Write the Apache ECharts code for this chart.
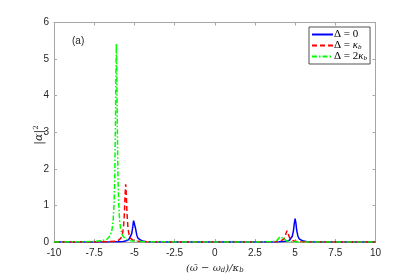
<!DOCTYPE html>
<html>
<head>
<meta charset="utf-8">
<script src="https://cdn.jsdelivr.net/npm/echarts@6/dist/echarts.min.js"></script>
<style>
html,body{margin:0;padding:0;background:#fff;}
#chart{width:415px;height:279px;}
</style>
</head>
<body>
<div id="chart"></div>
<script>
// ---- data ----
const xTicks = [-10, -7.5, -5, -2.5, 0, 2.5, 5, 7.5, 10];
const yTicks = [0, 1, 2, 3, 4, 5, 6];
const seriesNames = ['Δ = 0', 'Δ = κb', 'Δ = 2κb'];

const blueX = [-10, -8, -7, -6.5, -6, -5.7, -5.5, -5.35, -5.25, -5.17, -5.1, -5.05, -5.02, -4.98, -4.93, -4.85, -4.77, -4.67, -4.5, -4.3, -4, -3.5, -3, -2, 0, 2, 3, 3.5, 4, 4.3, 4.5, 4.65, 4.75, 4.83, 4.9, 4.95, 5.0, 5.05, 5.1, 5.17, 5.25, 5.35, 5.5, 5.7, 6, 6.5, 7, 8, 10];
const blueY = [0.0003, 0.0009, 0.0019, 0.0035, 0.0078, 0.016, 0.0315, 0.063, 0.117, 0.22, 0.412, 0.586, 0.63, 0.556, 0.377, 0.186, 0.102, 0.057, 0.027, 0.0144, 0.0072, 0.0033, 0.0019, 0.0008, 0.0003, 0.0007, 0.0016, 0.0028, 0.0063, 0.0128, 0.0246, 0.048, 0.088, 0.165, 0.32, 0.512, 0.64, 0.512, 0.32, 0.165, 0.088, 0.048, 0.0246, 0.0128, 0.0063, 0.0028, 0.0016, 0.0007, 0.0003];

const redX = [-10, -8, -7, -6.5, -6.2, -6, -5.85, -5.75, -5.68, -5.62, -5.58, -5.54, -5.5, -5.46, -5.4, -5.33, -5.23, -5.08, -4.88, -4.58, -4, -3, -1, 1, 2.5, 3.5, 3.9, 4.1, 4.22, 4.3, 4.37, 4.43, 4.5, 4.57, 4.63, 4.7, 4.78, 4.9, 5.1, 5.5, 6.5, 8, 10];
const redY = [0.0005, 0.0017, 0.0047, 0.0109, 0.0229, 0.0464, 0.0987, 0.2, 0.389, 0.79, 1.264, 1.58, 1.264, 0.79, 0.389, 0.2, 0.0987, 0.0464, 0.0229, 0.0109, 0.0043, 0.0016, 0.0005, 0.0004, 0.0011, 0.0044, 0.0119, 0.0256, 0.048, 0.082, 0.143, 0.231, 0.31, 0.231, 0.143, 0.082, 0.048, 0.0256, 0.0119, 0.0044, 0.0011, 0.0004, 0.00015];

const greenX = [-10, -8.5, -7.5, -7, -6.7, -6.5, -6.4, -6.32, -6.26, -6.22, -6.18, -6.15, -6.12, -6.09, -6.06, -6.02, -5.98, -5.92, -5.84, -5.74, -5.54, -5.24, -4.74, -3.74, -2, 0, 2, 3, 3.5, 3.75, 3.9, 4.0, 4.06, 4.12, 4.18, 4.24, 4.34, 4.49, 4.74, 5.24, 6.24, 8, 10];
const greenY = [0.0018, 0.0047, 0.0139, 0.034, 0.078, 0.178, 0.319, 0.592, 1.084, 1.78, 3.12, 4.58, 5.42, 4.58, 3.12, 1.78, 1.084, 0.592, 0.319, 0.178, 0.078, 0.034, 0.0139, 0.0047, 0.0016, 0.0009, 0.00085, 0.003, 0.0094, 0.024, 0.054, 0.104, 0.147, 0.17, 0.147, 0.104, 0.054, 0.024, 0.0094, 0.003, 0.00085, 0.0003, 0.0002];

const zip = (xs, ys) => xs.map((x, i) => [x, ys[i]]);

const chart = echarts.init(document.getElementById('chart'), null, {renderer: 'canvas'});
const axisColor = '#a6a6a6';
const txtColor = '#262626';
const sans = 'Liberation Sans, Arial, sans-serif';
const serif = 'DejaVu Serif, Liberation Serif, serif';

const baseX = {
  type: 'value', min: xTicks[0], max: xTicks[xTicks.length - 1], interval: 2.5,
  splitLine: {show: false},
  axisLine: {show: true, onZero: false, lineStyle: {color: axisColor, width: 1}},
  axisTick: {show: true, inside: true, length: 3, lineStyle: {color: axisColor}}
};
const baseY = {
  type: 'value', min: yTicks[0], max: yTicks[yTicks.length - 1], interval: 1,
  splitLine: {show: false},
  axisLine: {show: true, onZero: false, lineStyle: {color: axisColor, width: 1}},
  axisTick: {show: true, inside: true, length: 3, lineStyle: {color: axisColor}}
};

const legendRich = {
  n: {fontFamily: 'Liberation Serif, serif', fontSize: 11, color: '#000'},
  i: {fontFamily: 'Liberation Serif, serif', fontStyle: 'italic', fontSize: 11, color: '#000'},
  s: {fontFamily: 'Liberation Serif, serif', fontStyle: 'italic', fontSize: 7, color: '#000', verticalAlign: 'bottom', padding: [4, 0, 0, 0]}
};

chart.setOption({
  animation: false,
  backgroundColor: '#fff',
  grid: {left: 54, right: 39.5, top: 22.5, bottom: 31.5, containLabel: false},
  xAxis: [
    Object.assign({}, baseX, {
      position: 'bottom',
      axisLabel: {show: true, margin: 6, color: txtColor, fontFamily: sans, fontSize: 10,
        formatter: v => String(v)},
      name: '(ω\u0304 − ω{i|d})/κ{i|b}',
      nameLocation: 'middle', nameGap: 20,
      nameTextStyle: {fontFamily: serif, fontStyle: 'italic', fontSize: 10, color: txtColor,
        rich: {i: {fontFamily: serif, fontStyle: 'italic', fontSize: 7, color: txtColor, padding: [5, 0, 0, 0]}}}
    }),
    Object.assign({}, baseX, {position: 'top', axisLabel: {show: false}})
  ],
  yAxis: [
    Object.assign({}, baseY, {
      position: 'left',
      axisLabel: {show: true, margin: 5, color: txtColor, fontFamily: sans, fontSize: 10}
    }),
    Object.assign({}, baseY, {position: 'right', axisLabel: {show: false}})
  ],
  legend: {
    show: true, orient: 'vertical', left: 309, top: 27,
    backgroundColor: '#fff', borderColor: '#262626', borderWidth: 0.8,
    padding: [2, 3, 2, 2], itemGap: 0, itemWidth: 21, itemHeight: 11,
    itemStyle: {opacity: 0},
    data: seriesNames,
    formatter: function (name) {
      if (name === seriesNames[0]) return '{n|Δ = 0}';
      if (name === seriesNames[1]) return '{n|Δ = }{i|κ}{s|b}';
      return '{n|Δ = 2}{i|κ}{s|b}';
    },
    textStyle: {rich: legendRich, padding: [0, 0, 0, -4]}
  },
  graphic: [
    {
      type: 'text', left: 72, top: 36,
      style: {text: '(a)', font: '10px ' + sans, fill: txtColor}
    },
    {
      type: 'text', x: 39, y: 135, rotation: Math.PI / 2,
      style: {
        text: '|α|{s|2}', textAlign: 'center', textVerticalAlign: 'middle',
        fontFamily: serif, fontStyle: 'italic', fontSize: 11, fill: txtColor,
        rich: {s: {fontFamily: serif, fontSize: 7, fill: txtColor, padding: [0, 0, 5, 0]}}
      }
    }
  ],
  series: [
    {name: seriesNames[0], type: 'line', data: zip(blueX, blueY), showSymbol: false, symbol: 'none',
      lineStyle: {color: '#0000ff', width: 1.5}, itemStyle: {color: '#0000ff'}, z: 3},
    {name: seriesNames[1], type: 'line', data: zip(redX, redY), showSymbol: false, symbol: 'none',
      lineStyle: {color: '#ff0000', width: 1.5, type: [5, 3]}, itemStyle: {color: '#ff0000'}, z: 4},
    {name: seriesNames[2], type: 'line', data: zip(greenX, greenY), showSymbol: false, symbol: 'none',
      lineStyle: {color: '#00ff00', width: 1.5, type: [5, 2, 1.5, 2]}, itemStyle: {color: '#00ff00'}, z: 5}
  ]
});
</script>
</body>
</html>
